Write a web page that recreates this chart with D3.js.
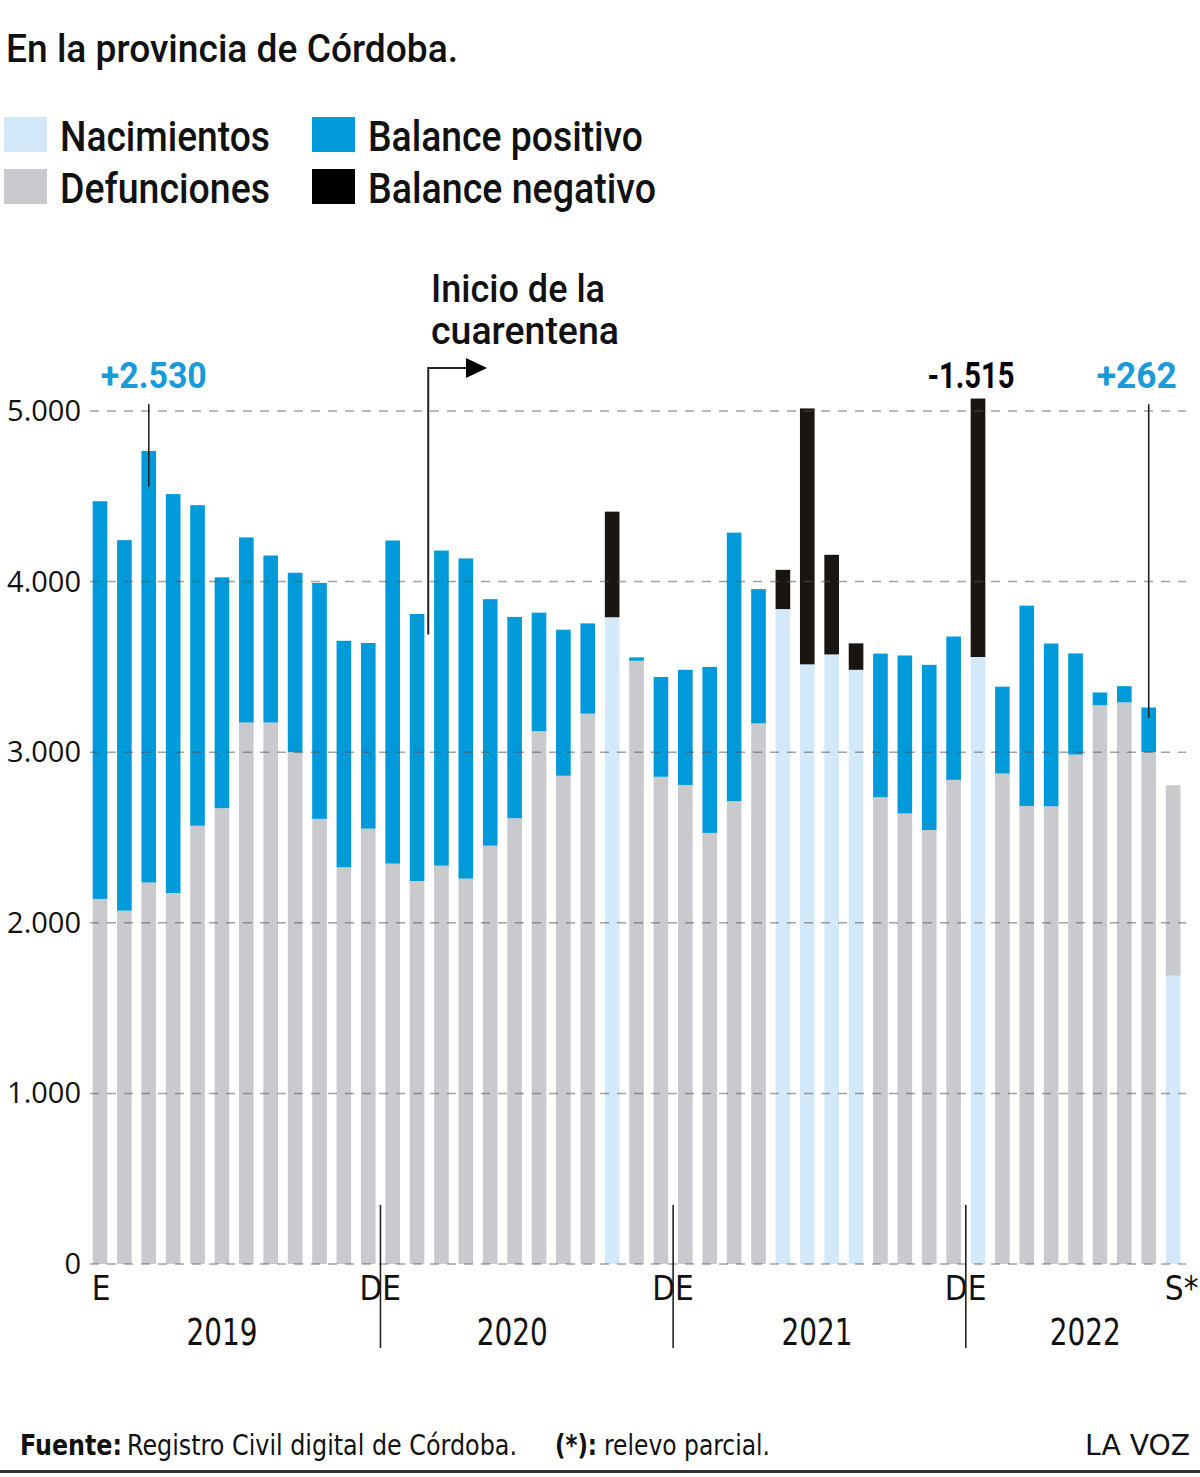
<!DOCTYPE html>
<html>
<head>
<meta charset="utf-8">
<title>Nacimientos y defunciones - Córdoba</title>
<script src="https://d3js.org/d3.v7.min.js"></script>
<style>
    body {
        margin: 0;
        background: #fff;
    }
    svg {
        display: block;
        font-family: "Liberation Sans Narrow", "DejaVu Sans Condensed", "Liberation Sans", sans-serif;
    }
    .fuerte {
        font-family: Roboto, "DejaVu Sans Condensed", sans-serif;
        font-weight: 500;
    }
</style>
</head>
<body>
<svg id="chart" width="1200" height="1477"></svg>
<script>
// datos: enero 2019 a septiembre 2022 (el ultimo mes es parcial)
const anios = [2019, 2020, 2021, 2022];
const mesesPorAnio = [12, 12, 12, 9];
const nacimientos = [
    4471, 4243, 4766, 4513, 4448, 4025, 4259, 4153, 4052, 3992, 3653, 3640,
    4241, 3810, 4182, 4136, 3897, 3793, 3818, 3718, 3755, 3791, 3556, 3441,
    3483, 3500, 4287, 3956, 3839, 3515, 3573, 3483, 3578, 3567, 3512, 3678,
    3558, 3384, 3859, 3637, 3579, 3350, 3387, 3262, 1690
];
const defunciones = [
    2140, 2071, 2236, 2174, 2569, 2672, 3174, 3174, 3000, 2609, 2326, 2552,
    2347, 2245, 2335, 2259, 2452, 2613, 3123, 2862, 3226, 4410, 3536, 2856,
    2808, 2527, 2713, 3169, 4069, 5015, 4157, 3638, 2736, 2641, 2544, 2838,
    5073, 2875, 2685, 2683, 2986, 3275, 3292, 3000, 2806
];
const mesParcial = 44;
const yTicks = [0, 1000, 2000, 3000, 4000, 5000];
const xTickLabels = [
    {mes: 0, texto: "E"},
    {mes: 11.5, texto: "DE"},
    {mes: 23.5, texto: "DE"},
    {mes: 35.5, texto: "DE"},
    {mes: 44, texto: "S*"}
];
const destacados = [2, 36, 43];

const colores = {
    nac: "#d3e8f8",
    def: "#c9cace",
    pos: "#009ada",
    neg: "#1b1512"
};

// meses como categorias
const meses = [];
anios.forEach(function(a, k) {
    for (let m = 1; m <= mesesPorAnio[k]; m++) meses.push(a + "-" + (m < 10 ? "0" + m : m));
});

const svg = d3.select("#chart");
const fmt = d3.formatLocale({decimal: ",", thousands: ".", grouping: [3], currency: ["$", ""]}).format(",d");

const x = d3.scaleBand()
    .domain(d3.range(meses.length))
    .range([87.8, 1185.3])
    .paddingInner(0.4)
    .paddingOuter(0.2);
const step = x.step();
const cx = function(i) { return x(0) + x.bandwidth() / 2 + i * step; };

const y = d3.scaleLinear()
    .domain([0, 5000])
    .range([1264, 411]);

// titulo
svg.append("text")
    .attr("class", "fuerte")
    .attr("x", 6).attr("y", 62)
    .attr("font-size", 38)
    .attr("textLength", 452).attr("lengthAdjust", "spacingAndGlyphs")
    .attr("fill", "#111")
    .text("En la provincia de Córdoba.");

// leyenda
const leyenda = [
    {t: "Nacimientos", c: colores.nac, col: 0, fila: 0, w: 210},
    {t: "Defunciones", c: colores.def, col: 0, fila: 1, w: 210},
    {t: "Balance positivo", c: colores.pos, col: 1, fila: 0, w: 275},
    {t: "Balance negativo", c: "#000", col: 1, fila: 1, w: 288}
];
const leg = svg.append("g").selectAll("g").data(leyenda).enter().append("g")
    .attr("transform", function(d) { return "translate(" + (d.col ? 312 : 4) + "," + (117 + d.fila * 52) + ")"; });
leg.append("rect").attr("width", 43).attr("height", 35).attr("fill", function(d) { return d.c; });
leg.append("text")
    .attr("class", "fuerte")
    .attr("x", 56).attr("y", 34)
    .attr("font-size", 43)
    .attr("textLength", function(d) { return d.w; }).attr("lengthAdjust", "spacingAndGlyphs")
    .attr("fill", "#111")
    .text(function(d) { return d.t; });

// barras apiladas
const segmentos = [];
meses.forEach(function(m, i) {
    const n = nacimientos[i], d = defunciones[i];
    if (i === mesParcial) {
        segmentos.push({i: i, y0: 0, y1: n, c: colores.nac});
        segmentos.push({i: i, y0: n, y1: d, c: colores.def});
    } else if (n >= d) {
        segmentos.push({i: i, y0: 0, y1: d, c: colores.def});
        segmentos.push({i: i, y0: d, y1: n, c: colores.pos});
    } else {
        segmentos.push({i: i, y0: 0, y1: n, c: colores.nac});
        segmentos.push({i: i, y0: n, y1: d, c: colores.neg});
    }
});

svg.append("g").selectAll("rect").data(segmentos).enter().append("rect")
    .attr("x", function(d) { return x(d.i); })
    .attr("width", x.bandwidth())
    .attr("y", function(d) { return y(d.y1); })
    .attr("height", function(d) { return y(d.y0) - y(d.y1); })
    .attr("fill", function(d) { return d.c; });

// lineas de referencia
const grid = svg.append("g");
grid.selectAll("line").data(yTicks).enter().append("line")
    .attr("x1", 90).attr("x2", 1186)
    .attr("y1", function(d) { return y(d); })
    .attr("y2", function(d) { return y(d); })
    .attr("stroke", "#555").attr("stroke-opacity", 0.55)
    .attr("stroke-width", 1.5).attr("stroke-dasharray", "9,8");

svg.append("g").selectAll("text").data(yTicks).enter().append("text")
    .attr("x", 81).attr("y", function(d) { return y(d) + 10; })
    .attr("text-anchor", "end")
    .attr("font-family", "'Open Sans', sans-serif")
    .attr("font-size", 29)
    .attr("fill", "#111")
    .text(function(d) { return fmt(d); });

// eje x
svg.append("g").selectAll("text").data(xTickLabels).enter().append("text")
    .attr("x", function(d) { return d.texto === "DE" ? cx(d.mes) - 21 : x(Math.round(d.mes)) - 1; })
    .attr("y", 1300)
    .attr("font-size", 33)
    .attr("fill", "#111")
    .text(function(d) { return d.texto; });

svg.append("g").selectAll("line").data([11.5, 23.5, 35.5]).enter().append("line")
    .attr("x1", function(d) { return cx(d); })
    .attr("x2", function(d) { return cx(d); })
    .attr("y1", 1205).attr("y2", 1348)
    .attr("stroke", "#222").attr("stroke-width", 1.6);

const posAnio = [5, 16.9, 29.4, 40.4];
svg.append("g").selectAll("text").data(anios).enter().append("text")
    .attr("x", function(d, k) { return cx(posAnio[k]); })
    .attr("y", 1345)
    .attr("text-anchor", "middle")
    .attr("font-size", 38)
    .attr("textLength", 71).attr("lengthAdjust", "spacingAndGlyphs")
    .attr("fill", "#111")
    .text(function(d) { return d; });

// balances destacados
destacados.forEach(function(i) {
    const bal = nacimientos[i] - defunciones[i];
    const pos = bal >= 0;
    const txt = (pos ? "+" : "-") + fmt(Math.abs(bal));
    const ancla = i === 43 ? "end" : "middle";
    const tx = i === 2 ? cx(i) + 5 : (i === 36 ? cx(i) - 7 : cx(i) + 28);
    svg.append("text")
        .attr("class", "fuerte")
        .attr("x", tx).attr("y", 388)
        .attr("text-anchor", ancla)
        .attr("font-size", 37).attr("font-weight", 700)
        .attr("textLength", i === 2 ? 106 : (i === 36 ? 87 : 80))
        .attr("lengthAdjust", "spacingAndGlyphs")
        .attr("fill", pos ? "#1a9ad8" : "#000")
        .style("font-weight", 700)
        .text(txt);
    if (pos) {
        const tope = Math.max(nacimientos[i], defunciones[i]);
        svg.append("line")
            .attr("x1", cx(i)).attr("x2", cx(i))
            .attr("y1", y(5040))
            .attr("y2", y(tope - (i === 2 ? 210 : 60)))
            .attr("stroke", "#222").attr("stroke-width", 1.6);
    }
});

// inicio de la cuarentena
const xq = cx(13.5) - 1;
svg.append("path")
    .attr("d", "M" + xq + "," + y(3690) + "V368H468")
    .attr("fill", "none").attr("stroke", "#222").attr("stroke-width", 2);
svg.append("path")
    .attr("d", "M466,358L487,368L466,378Z")
    .attr("fill", "#000");
const cuar = svg.append("text")
    .attr("class", "fuerte")
    .attr("font-size", 39).attr("fill", "#111");
cuar.append("tspan").attr("x", 431).attr("y", 302)
    .attr("textLength", 174).attr("lengthAdjust", "spacingAndGlyphs").text("Inicio de la");
cuar.append("tspan").attr("x", 431).attr("y", 344)
    .attr("textLength", 188).attr("lengthAdjust", "spacingAndGlyphs").text("cuarentena");

// pie
const pie = svg.append("text").attr("y", 1455).attr("font-size", 29).attr("fill", "#111");
pie.append("tspan").attr("x", 20).attr("font-weight", "bold")
    .attr("textLength", 102).attr("lengthAdjust", "spacingAndGlyphs").text("Fuente:");
pie.append("tspan").attr("x", 127)
    .attr("textLength", 390).attr("lengthAdjust", "spacingAndGlyphs").text("Registro Civil digital de Córdoba.");
pie.append("tspan").attr("x", 555).attr("font-weight", "bold")
    .attr("textLength", 42).attr("lengthAdjust", "spacingAndGlyphs").text("(*):");
pie.append("tspan").attr("x", 604)
    .attr("textLength", 166).attr("lengthAdjust", "spacingAndGlyphs").text("relevo parcial.");
svg.append("text")
    .attr("x", 1190).attr("y", 1455).attr("text-anchor", "end")
    .attr("font-size", 29).attr("fill", "#111")
    .attr("textLength", 105).attr("lengthAdjust", "spacingAndGlyphs")
    .text("LA VOZ");
svg.append("rect")
    .attr("x", 0).attr("y", 1470).attr("width", 1200).attr("height", 3)
    .attr("fill", "#333");
</script>
</body>
</html>
